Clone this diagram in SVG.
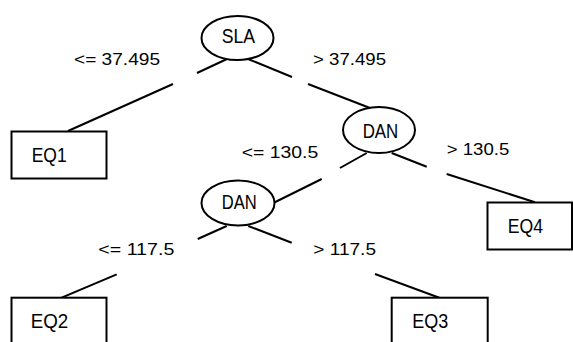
<svg xmlns="http://www.w3.org/2000/svg" width="573" height="342" viewBox="0 0 573 342">
<style>
.n{fill:#fff;stroke:#000;stroke-width:2}
.c line{stroke:#000;stroke-width:2}
.t{font-family:"Liberation Sans",Arial,sans-serif;font-size:21px;fill:#000}
.l{font-family:"Liberation Sans",Arial,sans-serif;font-size:16.5px;fill:#000}
</style>
<rect width="573" height="342" fill="#fff"/>
<g class="c" id="connectors">
<line x1="227" y1="59" x2="197" y2="73"/><line x1="173" y1="84" x2="68" y2="131"/>
<line x1="248" y1="59" x2="292" y2="77"/><line x1="308" y1="84" x2="370" y2="108"/>
<line x1="366.7" y1="153" x2="340" y2="168"/><line x1="321.7" y1="179" x2="273.3" y2="203"/>
<line x1="391.7" y1="153" x2="426.7" y2="166.7"/><line x1="446.7" y1="174" x2="535" y2="202.3"/>
<line x1="226.7" y1="226" x2="197.7" y2="239"/><line x1="116.7" y1="274.3" x2="61.7" y2="297.7"/>
<line x1="248.3" y1="226" x2="291.7" y2="242.7"/><line x1="375" y1="274" x2="439.3" y2="297.7"/>
<text class="l" x="74" y="64.5" textLength="86" lengthAdjust="spacingAndGlyphs">&lt;= 37.495</text>
<text class="l" x="313" y="64.5" textLength="73" lengthAdjust="spacingAndGlyphs">&gt; 37.495</text>
<text class="l" x="241.7" y="158.3" textLength="76.6" lengthAdjust="spacingAndGlyphs">&lt;= 130.5</text>
<text class="l" x="446.7" y="155" textLength="62.6" lengthAdjust="spacingAndGlyphs">&gt; 130.5</text>
<text class="l" x="98.3" y="255" textLength="76" lengthAdjust="spacingAndGlyphs">&lt;= 117.5</text>
<text class="l" x="313.3" y="255" textLength="62.7" lengthAdjust="spacingAndGlyphs">&gt; 117.5</text>
</g>
<g id="SLA"><ellipse class="n" cx="237.5" cy="38" rx="36" ry="22"/><text class="t" x="221.7" y="43.3" textLength="33.3" lengthAdjust="spacingAndGlyphs">SLA</text></g>
<g id="DAN1"><ellipse class="n" cx="379" cy="130" rx="36" ry="23"/><text class="t" x="362.7" y="138.3" textLength="35.6" lengthAdjust="spacingAndGlyphs">DAN</text></g>
<g id="DAN2"><ellipse class="n" cx="238" cy="203" rx="36.5" ry="22.5"/><text class="t" x="221.7" y="208.7" textLength="35" lengthAdjust="spacingAndGlyphs">DAN</text></g>
<g id="EQ1"><rect class="n" x="11.5" y="131.5" width="95" height="47"/><text class="t" x="31.7" y="161.7" textLength="35" lengthAdjust="spacingAndGlyphs">EQ1</text></g>
<g id="EQ4"><rect class="n" x="487.5" y="202.5" width="84.5" height="47"/><text class="t" x="507.7" y="233.3" textLength="35.3" lengthAdjust="spacingAndGlyphs">EQ4</text></g>
<g id="EQ2"><rect class="n" x="11.5" y="297.7" width="95" height="60"/><text class="t" x="30.7" y="328.3" textLength="37.6" lengthAdjust="spacingAndGlyphs">EQ2</text></g>
<g id="EQ3"><rect class="n" x="391.7" y="297.7" width="96" height="60"/><text class="t" x="412.3" y="328.3" textLength="36" lengthAdjust="spacingAndGlyphs">EQ3</text></g>
</svg>
